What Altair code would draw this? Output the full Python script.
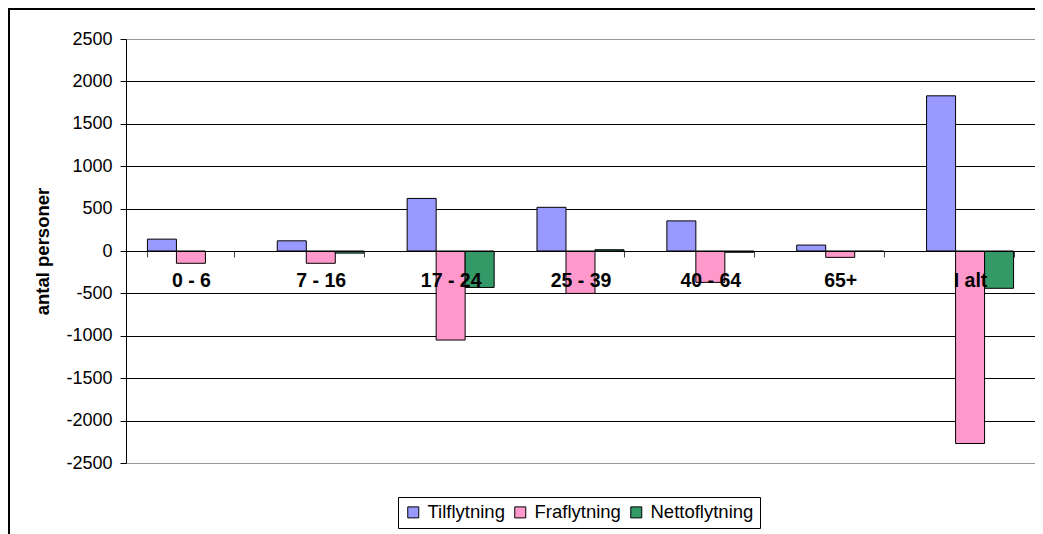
import altair as alt
import pandas as pd

categories = ["0 - 6", "7 - 16", "17 - 24", "25 - 39", "40 - 64", "65+", "I alt"]
series = ["Tilflytning", "Fraflytning", "Nettoflytning"]
tilflytning = [140, 120, 620, 515, 355, 70, 1830]
fraflytning = [-145, -145, -1050, -500, -370, -75, -2270]
nettoflytning = [0, -25, -430, 15, -15, -5, -440]
colors = ["#9999FF", "#FF99CC", "#339966"]
y_ticks = [-2500, -2000, -1500, -1000, -500, 0, 500, 1000, 1500, 2000, 2500]

rows = []
for i, c in enumerate(categories):
    for s, vals in zip(series, [tilflytning, fraflytning, nettoflytning]):
        rows.append({"Aldersgruppe": c, "Serie": s, "Antal": vals[i]})
df = pd.DataFrame(rows)

FONT = "Liberation Sans"
W, H = 909, 424

bars = alt.Chart(df).mark_bar(stroke="black", strokeWidth=1).encode(
    x=alt.X("Aldersgruppe:N", sort=categories,
            scale=alt.Scale(paddingInner=0.33, paddingOuter=0.165),
            axis=alt.Axis(title=None, orient="bottom", offset=-212, labelAngle=0,
                          labelFont=FONT, labelFontSize=19.5, labelFontWeight="bold",
                          labelColor="black", labelPadding=14,
                          tickBand="extent", tickSize=6, tickColor="#444",
                          domainColor="black", domainWidth=1, grid=False, zindex=1)),
    xOffset=alt.XOffset("Serie:N", sort=series, scale=alt.Scale(paddingInner=0, paddingOuter=0)),
    y=alt.Y("Antal:Q", scale=alt.Scale(domain=[-2500, 2500], nice=False),
            axis=alt.Axis(title="antal personer", values=y_ticks,
                          labelExpr="'' + datum.value",
                          labelFont=FONT, labelFontSize=18, labelColor="black",
                          labelPadding=8, tickSize=6, tickColor="black",
                          domainColor="black", grid=True,
                          gridColor={"expr": "abs(datum.value) == 2500 ? '#999999' : '#000000'"},
                          gridWidth=1,
                          titleFont=FONT, titleFontSize=18.5, titleFontWeight="bold",
                          titleColor="black", titlePadding=13)),
    color=alt.Color("Serie:N", sort=series,
                    scale=alt.Scale(domain=series, range=colors),
                    legend=alt.Legend(title=None, orient="none", legendX=272, legendY=458,
                                      direction="horizontal", strokeColor="black",
                                      padding=6, labelFont=FONT, labelFontSize=18.5,
                                      labelColor="black", symbolType="square",
                                      symbolSize=121, symbolStrokeColor="black",
                                      symbolStrokeWidth=1, columnPadding=6,
                                      labelOffset=5)),
    strokeOpacity=alt.condition("datum.Antal == 0", alt.value(0), alt.value(1)),
)

one = pd.DataFrame({"a": [0]})
frame_left = alt.Chart(one).mark_rule(color="black", strokeWidth=2).encode(
    x=alt.value(-117), y=alt.value(-31), y2=alt.value(495))
frame_top = alt.Chart(one).mark_rule(color="black", strokeWidth=2).encode(
    x=alt.value(-118), x2=alt.value(909), y=alt.value(-30))

chart = alt.layer(bars, frame_left, frame_top).properties(
    width=W, height=H,
    padding={"left": 118, "top": 31, "right": 0, "bottom": 71},
    autosize=alt.AutoSizeParams(type="none"),
).configure_view(stroke="#999999", strokeWidth=1).configure(background="white")

chart.save("out.html", embed_options={"renderer": "svg", "actions": False})
